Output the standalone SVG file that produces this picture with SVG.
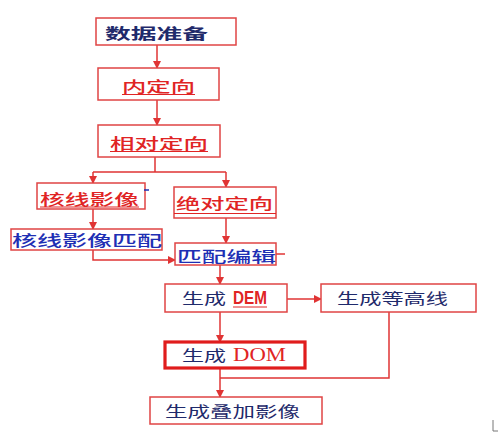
<svg xmlns="http://www.w3.org/2000/svg" width="499" height="437" viewBox="0 0 499 437">
<style>
.box{fill:#fff;stroke:#e04444;stroke-width:1.5}
.thick{fill:#fff;stroke:#e01c1c;stroke-width:3.2}
.ln{fill:none;stroke:#e03434;stroke-width:1.5}
.t{font-family:"Noto Sans CJK SC","Noto Sans",sans-serif;font-size:15px}
.navy{fill:#1f2a6b}
.red{fill:#e02424}
.blue{fill:#1e2fb4}
.m{font-weight:500}
.ul{stroke:#e02424;stroke-width:1}
</style>
<defs>
<marker id="ah" markerWidth="8" markerHeight="8" refX="7" refY="4" orient="auto" markerUnits="userSpaceOnUse">
<path d="M0,0 L8,4 L0,8 Z" fill="#e03434"/>
</marker>
</defs>
<rect width="499" height="437" fill="#fff"/>
<g id="connectors">
<path class="ln" d="M157,45 V68" marker-end="url(#ah)"/>
<path class="ln" d="M157,100 V125" marker-end="url(#ah)"/>
<path class="ln" d="M155,157 V172 M93,172 H226"/>
<path class="ln" d="M93,172 V183" marker-end="url(#ah)"/>
<path class="ln" d="M226,172 V187" marker-end="url(#ah)"/>
<path class="ln" d="M93,209 V229" marker-end="url(#ah)"/>
<path class="ln" d="M226,218 V243" marker-end="url(#ah)"/>
<path class="ln" d="M93,250 V260 H175" marker-end="url(#ah)"/>
<path class="ln" d="M276,254 H285"/>
<path class="ln" d="M220,265 V284" marker-end="url(#ah)"/>
<path class="ln" d="M287,299 H321" marker-end="url(#ah)"/>
<path class="ln" d="M220,312 V342" marker-end="url(#ah)"/>
<path class="ln" d="M389,312 V378 H220"/>
<path class="ln" d="M220,368 V397" marker-end="url(#ah)"/>
</g>
<g id="n1">
<rect class="box" x="96" y="18" width="140" height="27"/>
<text class="t navy" x="105" y="39" font-size="20" font-weight="bold" textLength="103" lengthAdjust="spacingAndGlyphs">数据准备</text>
</g>
<g id="n2">
<rect class="box" x="98" y="68" width="121" height="32"/>
<text class="t red m" x="122" y="92" textLength="73" lengthAdjust="spacingAndGlyphs">内定向</text>
<line class="ul" x1="122" y1="94.5" x2="195" y2="94.5"/>
</g>
<g id="n3">
<rect class="box" x="98" y="125" width="122" height="32"/>
<text class="t red m" x="110" y="149" textLength="98" lengthAdjust="spacingAndGlyphs">相对定向</text>
<line class="ul" x1="110" y1="151.5" x2="208" y2="151.5"/>
</g>
<g id="n4">
<rect class="box" x="37" y="183" width="108" height="26"/>
<text class="t red m" x="40" y="205" textLength="99" lengthAdjust="spacingAndGlyphs">核线影像</text>
<line class="ul" x1="40" y1="207" x2="139" y2="207"/>
<line x1="144" y1="190" x2="149" y2="190" stroke="#1e2fb4" stroke-width="1.5"/>
</g>
<g id="n5">
<rect class="box" x="174" y="187" width="102" height="31"/>
<text class="t red m" x="176" y="209" textLength="97" lengthAdjust="spacingAndGlyphs">绝对定向</text>
<line class="ul" x1="174" y1="213.5" x2="276" y2="213.5"/>
</g>
<g id="n6">
<rect class="box" x="11" y="229" width="151" height="21"/>
<text class="t blue m" x="12" y="246" textLength="150" lengthAdjust="spacingAndGlyphs">核线影像匹配</text>
</g>
<g id="n7">
<rect class="box" x="175" y="243" width="101" height="22"/>
<text class="t blue m" x="177" y="262" textLength="99" lengthAdjust="spacingAndGlyphs">匹配编辑</text>
</g>
<g id="n8">
<rect class="box" x="165" y="284" width="122" height="28"/>
<text class="t navy" x="182" y="304" font-size="18" textLength="44" lengthAdjust="spacingAndGlyphs">生成</text>
<text class="red" x="233" y="304" font-family="'Liberation Sans',Arial,sans-serif" font-size="18" font-weight="bold" textLength="34" lengthAdjust="spacingAndGlyphs">DEM</text>
<line class="ul" x1="233" y1="307" x2="267" y2="307"/>
</g>
<g id="n9">
<rect class="box" x="321" y="284" width="155" height="28"/>
<text class="t navy" x="337" y="304" font-size="18" textLength="111" lengthAdjust="spacingAndGlyphs">生成等高线</text>
</g>
<g id="n10">
<rect class="thick" x="165" y="342" width="140" height="26"/>
<text class="t navy" x="182" y="361" font-size="18" textLength="44" lengthAdjust="spacingAndGlyphs">生成</text>
<text class="red" x="233" y="361" font-family="'Liberation Serif','Times New Roman',serif" font-size="19" textLength="53" lengthAdjust="spacingAndGlyphs">DOM</text>
</g>
<g id="n11">
<rect class="box" x="150" y="397" width="172" height="27"/>
<text class="t navy" x="165" y="417" font-size="18" textLength="135" lengthAdjust="spacingAndGlyphs">生成叠加影像</text>
</g>
<path d="M493,420 V431 H498" fill="none" stroke="#777" stroke-width="1"/>
</svg>
